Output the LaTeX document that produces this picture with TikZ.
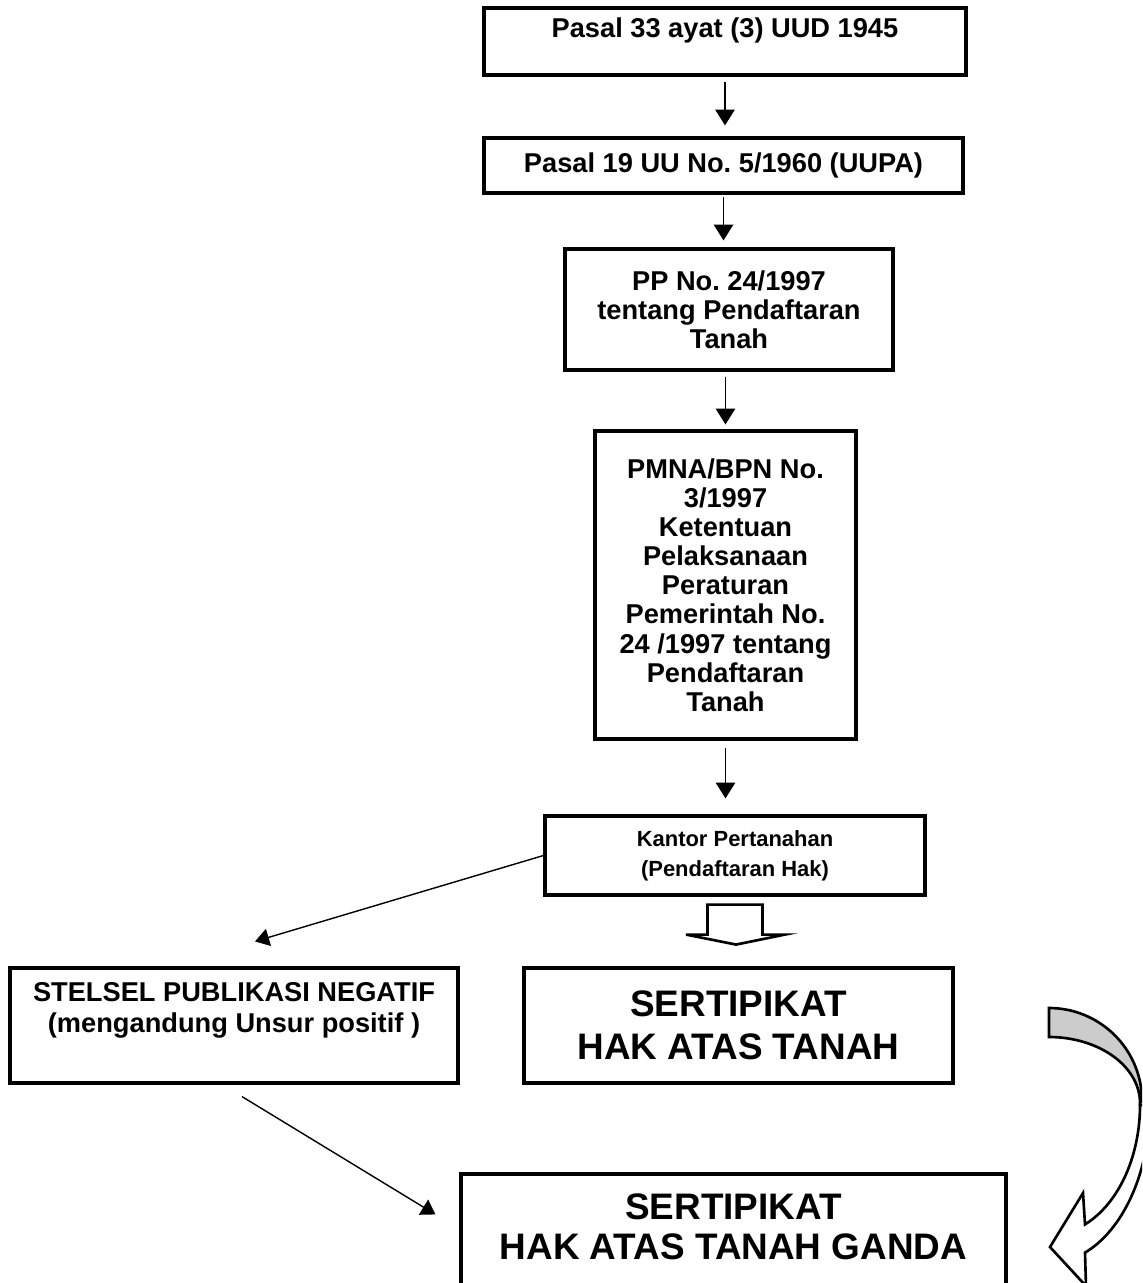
\documentclass[tikz,border=0pt]{standalone}
\usepackage{fontspec}
\setmainfont{Liberation Sans}
\frenchspacing
\usetikzlibrary{arrows.meta}
\tikzset{
  >={Triangle[width=11pt,length=9pt]},
  box/.style={draw, line width=1.8pt, inner sep=0pt, align=center,
    font=\bfseries\fontsize{15.5}{16.6}\selectfont},
  bigbox/.style={box, font=\bfseries\fontsize{21}{24.5}\selectfont},
  txt/.style={inner sep=0pt, align=center, font=\bfseries\fontsize{15.5}{17.6}\selectfont},
  bigtxt/.style={txt, font=\bfseries\fontsize{21}{23}\selectfont},
  flow/.style={->, line width=1pt},
  slant/.style={->, line width=0.8pt, >={Triangle[width=10pt,length=8pt]}},
  blockarrow/.style={draw, line width=1.5pt, line join=miter}
}
\begin{document}
\begin{tikzpicture}[x=0.02cm, y=-0.02cm]
\useasboundingbox (0,0) rectangle (1142,1283);
\clip (0,0) rectangle (1142,1283);
\node[box, minimum width=9.64cm, minimum height=1.34cm] (uud) at (725,41.5) {};
\node[txt] (uudtext) at (725,30) {Pasal 33 ayat (3) UUD 1945};
\node[box, minimum width=9.58cm, minimum height=1.1cm] (uupa) at (723.5,165.5) {Pasal 19 UU No. 5/1960 (UUPA)};
\node[box, minimum width=6.56cm, minimum height=2.42cm] (pp) at (729,309.5) {PP No. 24/1997\\tentang Pendaftaran\\Tanah};
\node[box, minimum width=5.22cm, minimum height=6.16cm] (pmna) at (725.5,585) {PMNA/BPN No.\\3/1997\\Ketentuan\\Pelaksanaan\\Peraturan\\Pemerintah No.\\24 /1997 tentang\\Pendaftaran\\Tanah};
\node[box, font=\bfseries\fontsize{12.5}{17}\selectfont, minimum width=7.6cm, minimum height=1.58cm] (kantor) at (735,855.5) {Kantor Pertanahan\\(Pendaftaran Hak)};
\node[box, minimum width=8.96cm, minimum height=2.3cm] (stelsel) at (234,1025.5) {};
\node[txt] (stelseltext) at (234,1010) {STELSEL PUBLIKASI NEGATIF\\(mengandung Unsur positif )};
\node[bigbox, minimum width=8.58cm, minimum height=2.3cm] (hak) at (738.5,1025.5) {SERTIPIKAT\\HAK ATAS TANAH};
\node[box, minimum width=10.9cm, minimum height=2.52cm] (ganda) at (733.5,1237) {};
\node[bigtxt] (gandatext) at (733.5,1227) {SERTIPIKAT\\HAK ATAS TANAH GANDA};
\draw[flow, shorten <=0.1cm, shorten >=0.22cm] (uud.south) -- (uud.south |- uupa.north);
\draw[flow, shorten <=0.04cm, shorten >=0.14cm] (uupa.south) -- (uupa.south |- pp.north);
\draw[flow, shorten <=0.1cm, shorten >=0.1cm] (pmna.north |- pp.south) -- (pmna.north);
\draw[flow, shorten <=0.14cm, shorten >=0.32cm] (pmna.south) -- (pmna.south |- kantor.north);
\draw[slant] (kantor.west) -- ([shift={(21,-25)}]stelsel.north);
\draw[slant] ([shift={(8,12)}]stelsel.south) -- ([shift={(-24,42)}]ganda.north west);
\begin{scope}[shift={(kantor.south)}]
\draw[blockarrow, fill=white] (-27.5,8) -- (27.5,8) -- (27.5,38) -- (50,38) -- (1,48) -- (-49,38) -- (-27.5,38) -- cycle;
\end{scope}
\draw[blockarrow, fill=black!20] plot[domain=-90:0, samples=40] ({1049+93*cos(\x)}, {1101+93*sin(\x)}) -- (1140,1103) -- plot[domain=0:-90, samples=40] ({1049+91*cos(\x)}, {1103+66*sin(\x)}) -- cycle;
\draw[blockarrow, fill=white] plot[domain=0:66.7, samples=40] ({1049+91*cos(\x)}, {1105+130*sin(\x)}) -- (1083,1193) -- (1050,1247) -- (1086,1286) -- (1085,1253) -- plot[domain=69.1:0, samples=40] ({1049+101*cos(\x)}, {1105+158*sin(\x)}) -- cycle;
\end{tikzpicture}
\end{document}
